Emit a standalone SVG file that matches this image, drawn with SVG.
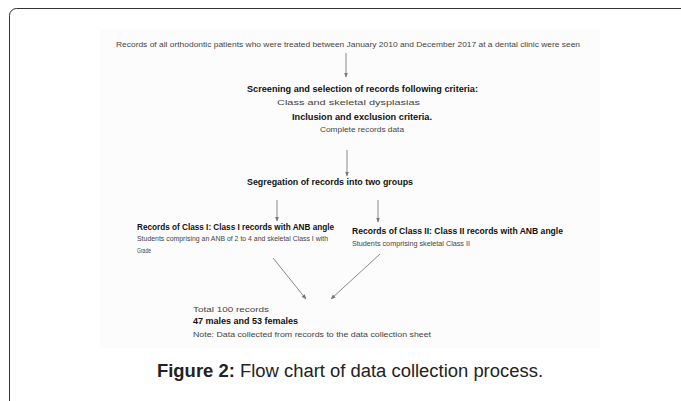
<svg xmlns="http://www.w3.org/2000/svg" width="681" height="401" viewBox="0 0 681 401">
<defs>
<marker id="ah" viewBox="0 0 10 10" refX="9" refY="5" markerWidth="5" markerHeight="5" orient="auto">
<path d="M0,1 L10,5 L0,9 z" fill="#777"/>
</marker>
<style>
.t{font-family:"Liberation Sans",Arial,sans-serif;font-size:8px;fill:#444}
.b{font-family:"Liberation Sans",Arial,sans-serif;font-size:9px;font-weight:bold;fill:#111}
.s{font-family:"Liberation Sans",Arial,sans-serif;font-size:7.5px;fill:#444}
.c{stroke:#888;stroke-width:1;fill:none;marker-end:url(#ah)}
.cap{font-family:"Liberation Sans",Arial,sans-serif;font-size:18px;fill:#222}
</style>
</defs>
<rect width="681" height="401" fill="#fff"/>
<rect x="9.5" y="8.5" width="680" height="450" rx="7" fill="#fff" stroke="#333" stroke-width="1"/>
<rect x="100" y="30" width="500" height="318" fill="#fcfcfc"/>

<g id="connectors">
<line class="c" x1="346" y1="53" x2="346" y2="77"/>
<line class="c" x1="347" y1="150" x2="347" y2="176"/>
<line class="c" x1="277" y1="200" x2="277" y2="221"/>
<line class="c" x1="378" y1="200" x2="378" y2="222"/>
<line class="c" x1="273" y1="258" x2="306" y2="299"/>
<line class="c" x1="380" y1="254" x2="331" y2="299"/>
</g>

<g id="n1">
<text class="t" x="116" y="47" textLength="464" lengthAdjust="spacingAndGlyphs">Records of all orthodontic patients who were treated between January 2010 and December 2017 at a dental clinic were seen</text>
</g>
<g id="n2">
<text class="b" x="247" y="92" textLength="231" lengthAdjust="spacingAndGlyphs">Screening and selection of records following criteria:</text>
<text class="s" x="277" y="105" textLength="143" lengthAdjust="spacingAndGlyphs">Class and skeletal dysplasias</text>
<text class="b" x="292" y="120" textLength="140" lengthAdjust="spacingAndGlyphs">Inclusion and exclusion criteria.</text>
<text class="s" x="320" y="132" textLength="84" lengthAdjust="spacingAndGlyphs">Complete records data</text>
</g>
<g id="n3">
<text class="b" x="247" y="185" textLength="166" lengthAdjust="spacingAndGlyphs">Segregation of records into two groups</text>
</g>
<g id="n4">
<text class="b" x="137" y="230" textLength="197" lengthAdjust="spacingAndGlyphs">Records of Class I: Class I records with ANB angle</text>
<text class="s" x="137" y="241" textLength="191" lengthAdjust="spacingAndGlyphs">Students comprising an ANB of 2 to 4 and skeletal Class I with</text>
<text class="s" x="137" y="253" textLength="14" lengthAdjust="spacingAndGlyphs">Grade</text>
</g>
<g id="n5">
<text class="b" x="352" y="234" textLength="211" lengthAdjust="spacingAndGlyphs">Records of Class II: Class II records with ANB angle</text>
<text class="s" x="352" y="246" textLength="118" lengthAdjust="spacingAndGlyphs">Students comprising skeletal Class II</text>
</g>
<g id="n6">
<text class="s" x="193" y="312" textLength="76" lengthAdjust="spacingAndGlyphs">Total 100 records</text>
<text class="b" x="193" y="324" textLength="105" lengthAdjust="spacingAndGlyphs">47 males and 53 females</text>
<text class="s" x="193" y="337" textLength="238" lengthAdjust="spacingAndGlyphs">Note: Data collected from records to the data collection sheet</text>
</g>
<g id="caption">
<text class="cap" x="157" y="377" textLength="386" lengthAdjust="spacingAndGlyphs"><tspan font-weight="bold">Figure 2:</tspan> Flow chart of data collection process.</text>
</g>
</svg>
